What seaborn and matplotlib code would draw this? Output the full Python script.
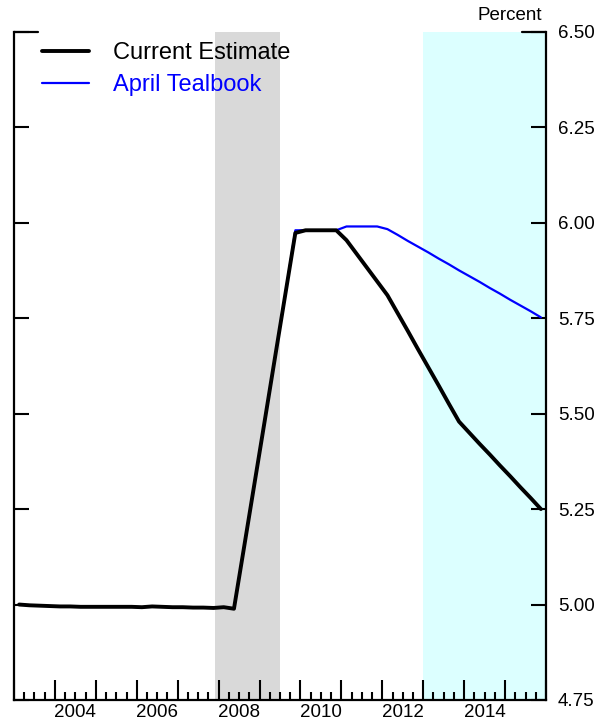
import numpy as np
import pandas as pd
import matplotlib
matplotlib.use("Agg")
import matplotlib.pyplot as plt
from matplotlib.lines import Line2D
from matplotlib.ticker import FixedLocator, NullFormatter
import seaborn as sns

# ---------------- data (quarterly, 2003Q1 .. 2015Q4) ----------------
years = list(range(2003, 2016))
quarters = [1, 2, 3, 4]

current_estimate = [
    5.000, 4.998, 4.997, 4.996,   # 2003
    4.995, 4.995, 4.994, 4.994,   # 2004
    4.994, 4.994, 4.994, 4.994,   # 2005
    4.993, 4.995, 4.994, 4.993,   # 2006
    4.993, 4.992, 4.992, 4.991,   # 2007
    4.993, 4.989, 5.152, 5.316,   # 2008
    5.480, 5.645, 5.809, 5.973,   # 2009
    5.980, 5.980, 5.980, 5.980,   # 2010
    5.954, 5.918, 5.882, 5.846,   # 2011
    5.810, 5.763, 5.716, 5.668,   # 2012
    5.621, 5.574, 5.526, 5.479,   # 2013
    5.450, 5.421, 5.393, 5.364,   # 2014
    5.336, 5.307, 5.279, 5.250,   # 2015
]

april_tealbook = [
    5.000, 4.998, 4.997, 4.996,   # 2003
    4.995, 4.995, 4.994, 4.994,   # 2004
    4.994, 4.994, 4.994, 4.994,   # 2005
    4.993, 4.995, 4.994, 4.993,   # 2006
    4.993, 4.992, 4.992, 4.991,   # 2007
    4.993, 4.989, 5.152, 5.316,   # 2008
    5.480, 5.645, 5.809, 5.980,   # 2009
    5.980, 5.980, 5.980, 5.980,   # 2010
    5.990, 5.990, 5.990, 5.990,   # 2011
    5.983, 5.968, 5.952, 5.937,   # 2012
    5.922, 5.906, 5.891, 5.875,   # 2013
    5.860, 5.845, 5.829, 5.814,   # 2014
    5.798, 5.783, 5.768, 5.752,   # 2015
]

series_names = ["Current Estimate", "April Tealbook"]
series_colors = ["black", "blue"]

recession = (2007.917, 2009.5)
projection = (2013.0, 2016.0)

y_ticks = [4.75, 5.00, 5.25, 5.50, 5.75, 6.00, 6.25, 6.50]
x_label_years = [2004, 2006, 2008, 2010, 2012, 2014]

# ---------------- build frame ----------------
dates = [y + (q - 0.5) / 4.0 for y in years for q in quarters]
df = pd.DataFrame({"date": dates,
                   "Current Estimate": current_estimate,
                   "April Tealbook": april_tealbook})

sns.set_theme(style="ticks")
plt.rcParams["font.family"] = ["Liberation Sans", "DejaVu Sans"]

fig = plt.figure(figsize=(6.13, 7.25), dpi=100)
ax = fig.add_axes([14 / 613, 1 - 700 / 725, 532 / 613, 668.3 / 725])

ax.axvspan(*recession, color="#d9d9d9", lw=0, zorder=0)
ax.axvspan(*projection, color="#dcffff", lw=0, zorder=0)

sns.lineplot(data=df, x="date", y="April Tealbook", ax=ax,
             color=series_colors[1], linewidth=1.6, zorder=3)
sns.lineplot(data=df, x="date", y="Current Estimate", ax=ax,
             color=series_colors[0], linewidth=2.8, zorder=4)

ax.set_xlim(2003.0, 2016.0)
ax.set_ylim(4.75, 6.50)
ax.set_xlabel("")
ax.set_ylabel("")

# spines
for s in ["left", "right", "bottom"]:
    ax.spines[s].set_linewidth(1.6)
    ax.spines[s].set_color("black")
ax.spines["top"].set_visible(False)

# x axis: tall ticks at year boundaries, short at quarters
ax.xaxis.set_major_locator(FixedLocator(list(range(2003, 2017))))
ax.xaxis.set_minor_locator(FixedLocator([y + q / 4.0 for y in range(2003, 2016) for q in (1, 2, 3)]))
ax.xaxis.set_major_formatter(NullFormatter())
ax.tick_params(axis="x", which="major", direction="in", length=14.5, width=1.5, color="black")
ax.tick_params(axis="x", which="minor", direction="in", length=6, width=1.5, color="black")

# x labels centered in the year
sec = ax.secondary_xaxis("bottom")
sec.set_xticks([y + 0.5 for y in x_label_years])
sec.set_xticklabels([str(y) for y in x_label_years])
sec.tick_params(length=0, pad=3, labelsize=13.5, colors="black")
sec.spines["bottom"].set_visible(False)

# y axis: labels on right, ticks inward on both sides
ax.set_yticks(y_ticks)
ax.set_yticklabels([f"{v:.2f}" for v in y_ticks])
ax.yaxis.tick_right()
ax.tick_params(axis="y", which="major", direction="in", left=True, right=True,
               labelleft=False, labelright=True, length=11, width=1.5,
               pad=8.5, labelsize=13.5, color="black", labelcolor="black")

# corner segments at the top
for xs in ([0, 24 / 532], [1 - 24 / 532, 1]):
    ax.add_line(Line2D(xs, [1, 1], transform=ax.transAxes, color="black",
                       lw=1.6, clip_on=False))

ax.text(1 - 4 / 532, 1 + 16.2 / 668.3, "Percent", transform=ax.transAxes,
        ha="right", va="center", fontsize=13.5, color="black")

handles = [Line2D([], [], color=series_colors[0], lw=2.8),
           Line2D([], [], color=series_colors[1], lw=1.6)]
ax.legend(handles, series_names, loc="upper left",
          bbox_to_anchor=(28 / 532, 0.9845), frameon=False, fontsize=17,
          handlelength=2.0, handletextpad=1.0, labelspacing=0.42,
          borderpad=0, borderaxespad=0, labelcolor=series_colors)

ax.grid(False)
fig.savefig("out.png", dpi=100)
